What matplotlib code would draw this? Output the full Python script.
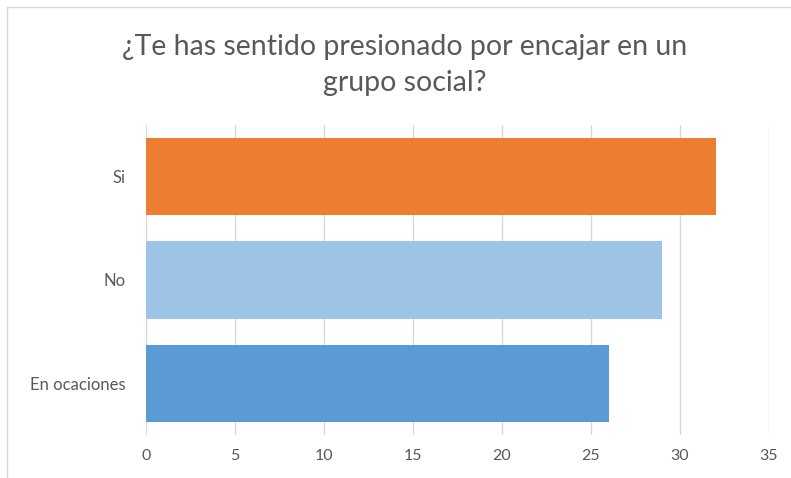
import matplotlib.pyplot as plt
from matplotlib.lines import Line2D

# Data
categories = ['En ocaciones', 'No', 'Si']
values = [26, 29, 32]
colors = ['#5B9BD5', '#9DC3E6', '#ED7D31']
xticks = [0, 5, 10, 15, 20, 25, 30, 35]

plt.rcParams['font.family'] = ['Lato', 'DejaVu Sans']

fig = plt.figure(figsize=(7.91, 4.78), dpi=100)
ax = fig.add_axes([146 / 791, 1 - 435 / 478, (769 - 146) / 791, (435 - 125) / 478])

ax.barh(categories, values, height=0.75, color=colors, zorder=3)
ax.set_xlim(0, 35)
ax.set_ylim(-0.5, 2.5)
ax.set_xticks(xticks)
ax.grid(axis='x', color='#D9D9D9', linewidth=1, zorder=0)
ax.grid(axis='y', visible=False)
for s in ax.spines.values():
    s.set_visible(False)
ax.tick_params(axis='both', length=0, colors='#595959')
ax.tick_params(axis='x', pad=10, labelsize=11.5)
ax.tick_params(axis='y', pad=15, labelsize=12)

fig.text(405 / 791, 1 - 65 / 478, '¿Te has sentido presionado por encajar en un\ngrupo social?',
         ha='center', va='center', fontsize=20.5, color='#595959', linespacing=1.5)

# chart border (top and left visible in the crop)
fig.add_artist(Line2D([7 / 791, 1], [1 - 7 / 478, 1 - 7 / 478], color='#D9D9D9', linewidth=1))
fig.add_artist(Line2D([7 / 791, 7 / 791], [0, 1 - 7 / 478], color='#D9D9D9', linewidth=1))

fig.savefig('out.png', dpi=100)
